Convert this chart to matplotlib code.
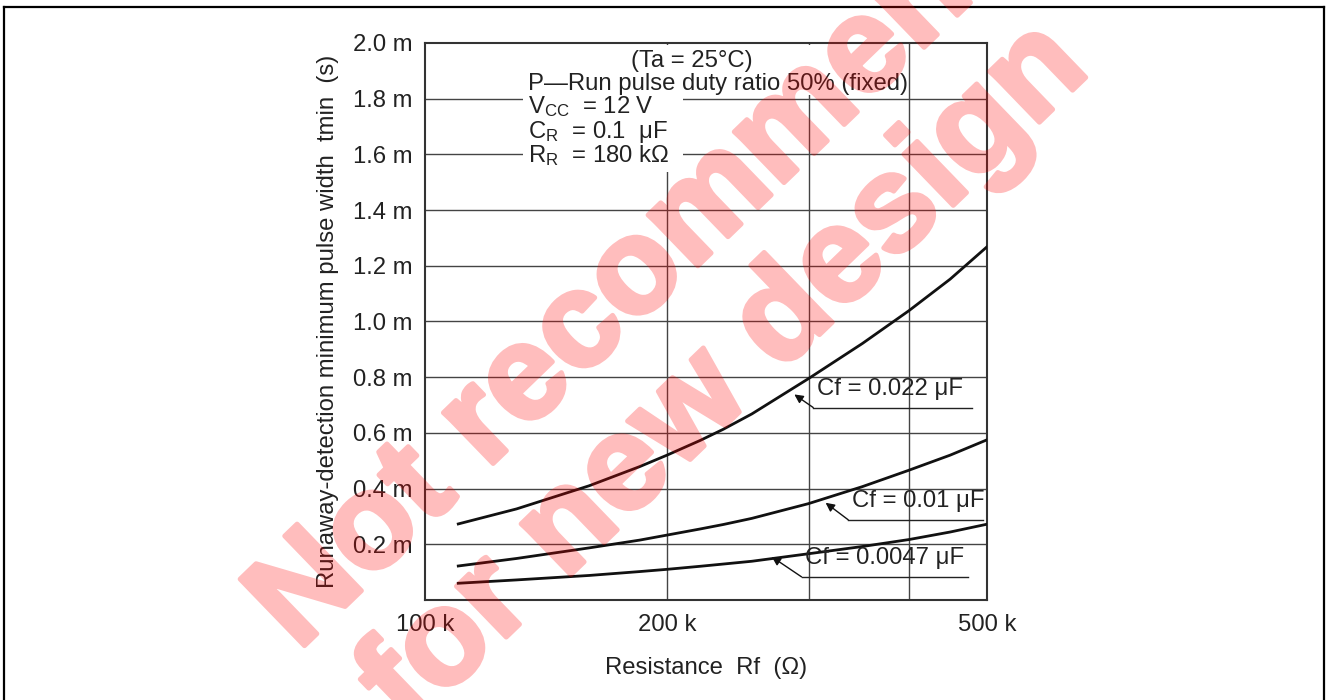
import numpy as np
import matplotlib
matplotlib.use("Agg")
import matplotlib.pyplot as plt
import matplotlib.patheffects as pe
from matplotlib.lines import Line2D
from matplotlib.patches import Rectangle

plt.rcParams['font.family'] = ['Liberation Sans', 'DejaVu Sans']
plt.rcParams['mathtext.fontset'] = 'custom'
plt.rcParams['mathtext.rm'] = 'Liberation Sans'
plt.rcParams['mathtext.it'] = 'Liberation Sans'

# resistance Rf in kOhm, tmin in ms
rf_k = [110, 130, 160, 185, 200, 220, 235, 255, 300, 350, 400, 450, 500]
tmin_022 = [0.273, 0.327, 0.410, 0.479, 0.52, 0.573, 0.613, 0.668, 0.795, 0.921, 1.039, 1.152, 1.268]
tmin_010 = [0.122, 0.149, 0.187, 0.215, 0.233, 0.255, 0.271, 0.293, 0.346, 0.407, 0.466, 0.52, 0.575]
tmin_0047 = [0.060, 0.072, 0.088, 0.102, 0.110, 0.121, 0.129, 0.139, 0.166, 0.192, 0.217, 0.244, 0.272]
curve_labels = ["Cf = 0.022 μF", "Cf = 0.01 μF", "Cf = 0.0047 μF"]

x_ticks = [100, 200, 500]
x_ticklabels = ["100 k", "200 k", "500 k"]
x_grid = [200, 300, 400]
y_ticks = [0.2, 0.4, 0.6, 0.8, 1.0, 1.2, 1.4, 1.6, 1.8, 2.0]
y_ticklabels = ["%.1f m" % v for v in y_ticks]

FS = 17.2
fig = plt.figure(figsize=(13.26, 7.0), dpi=100)
ax = fig.add_axes([0.3205, 0.1429, 0.4238, 0.7957])
ax.set_xscale('log')
ax.set_xlim(100, 500)
ax.set_ylim(0, 2.0)
ax.set_axisbelow(True)

ax.set_xticks(x_ticks)
ax.set_xticklabels(x_ticklabels)
ax.xaxis.set_minor_locator(matplotlib.ticker.NullLocator())
ax.set_yticks(y_ticks)
ax.set_yticklabels(y_ticklabels)
ax.tick_params(length=0, labelsize=FS, colors='#222222')
ax.tick_params(axis='x', pad=10)
ax.tick_params(axis='y', pad=9)

for v in y_ticks[:-1]:
    ax.axhline(v, color='#444444', lw=1.0, zorder=0.5)
for v in x_grid:
    ax.axvline(v, color='#444444', lw=1.0, zorder=0.5)
for s in ax.spines.values():
    s.set_color('#333333')
    s.set_linewidth(1.5)

# white areas behind the condition text
ax.add_patch(Rectangle((0.174, 0.907), 0.685, 0.089, transform=ax.transAxes,
                       facecolor='white', edgecolor='none', zorder=1.5))
ax.add_patch(Rectangle((0.174, 0.768), 0.285, 0.14, transform=ax.transAxes,
                       facecolor='white', edgecolor='none', zorder=1.5))

for ys in (tmin_022, tmin_010, tmin_0047):
    ax.plot(rf_k, ys, color='#111111', lw=2.0, zorder=3, solid_joinstyle='round')

# curve labels: arrow tip, elbow, underline end
ann = [((288, 0.738), (304, 0.691), 479),
       ((315, 0.349), (336, 0.288), 494),
       ((270, 0.155), (294, 0.083), 473)]
for lab, (tip, elbow, end) in zip(curve_labels, ann):
    ax.plot([elbow[0], end], [elbow[1], elbow[1]], color='#222222', lw=1.0, zorder=3)
    ax.annotate('', xy=tip, xytext=elbow,
                arrowprops=dict(arrowstyle='-|>', color='#111111', lw=1.0,
                                mutation_scale=13, shrinkA=0, shrinkB=0), zorder=3)
    ax.text(elbow[0] * 1.01, elbow[1] + 0.028, lab, fontsize=FS, color='#222222',
            ha='left', va='bottom', zorder=4)

tc = dict(transform=ax.transAxes, fontsize=FS, color='#222222', zorder=4, va='baseline')
ax.text(0.475, 0.9575, "(Ta = 25°C)", ha='center', **tc)
ax.text(0.1833, 0.9156, "P—Run pulse duty ratio 50% (fixed)", ha='left', **tc)
ax.text(0.1833, 0.8743, r"V$_{\mathrm{CC}}$  = 12 V", ha='left', **tc)
ax.text(0.1833, 0.8294, r"C$_{\mathrm{R}}$  = 0.1  μF", ha='left', **tc)
ax.text(0.1833, 0.787, r"R$_{\mathrm{R}}$  = 180 kΩ", ha='left', **tc)

ax.set_xlabel("Resistance  Rf  (Ω)", fontsize=FS, color='#222222', labelpad=15)
ax.set_ylabel("Runaway-detection minimum pulse width  tmin  (s)", fontsize=FS,
              color='#222222', labelpad=10)

# page frame
fig.add_artist(Line2D([0.0028, 0.0028], [0.0, 0.9895], color='black', lw=1.6))
fig.add_artist(Line2D([0.0028, 0.9985], [0.9895, 0.9895], color='black', lw=1.6))
fig.add_artist(Line2D([0.9985, 0.9985], [0.0, 0.9895], color='black', lw=1.6))


# watermark: drawn opaque, then made see-through as a whole
def see_through(im, dpi):
    out = im.copy()
    out[..., 3] = out[..., 3] * 0.26
    return out, 0, 0


wm = dict(fontsize=97, fontweight='bold', color='red', rotation=44,
          ha='left', va='baseline', rotation_mode='anchor', zorder=10,
          path_effects=[pe.withStroke(linewidth=3.5, foreground='red')])
t1 = fig.text(298 / 1326, 1 - 652 / 700, "Not recommended", **wm)
t2 = fig.text(408 / 1326, 1 - 732 / 700, "for new design", **wm)
for t in (t1, t2):
    t.set_agg_filter(see_through)

fig.savefig("out.png", dpi=100)
